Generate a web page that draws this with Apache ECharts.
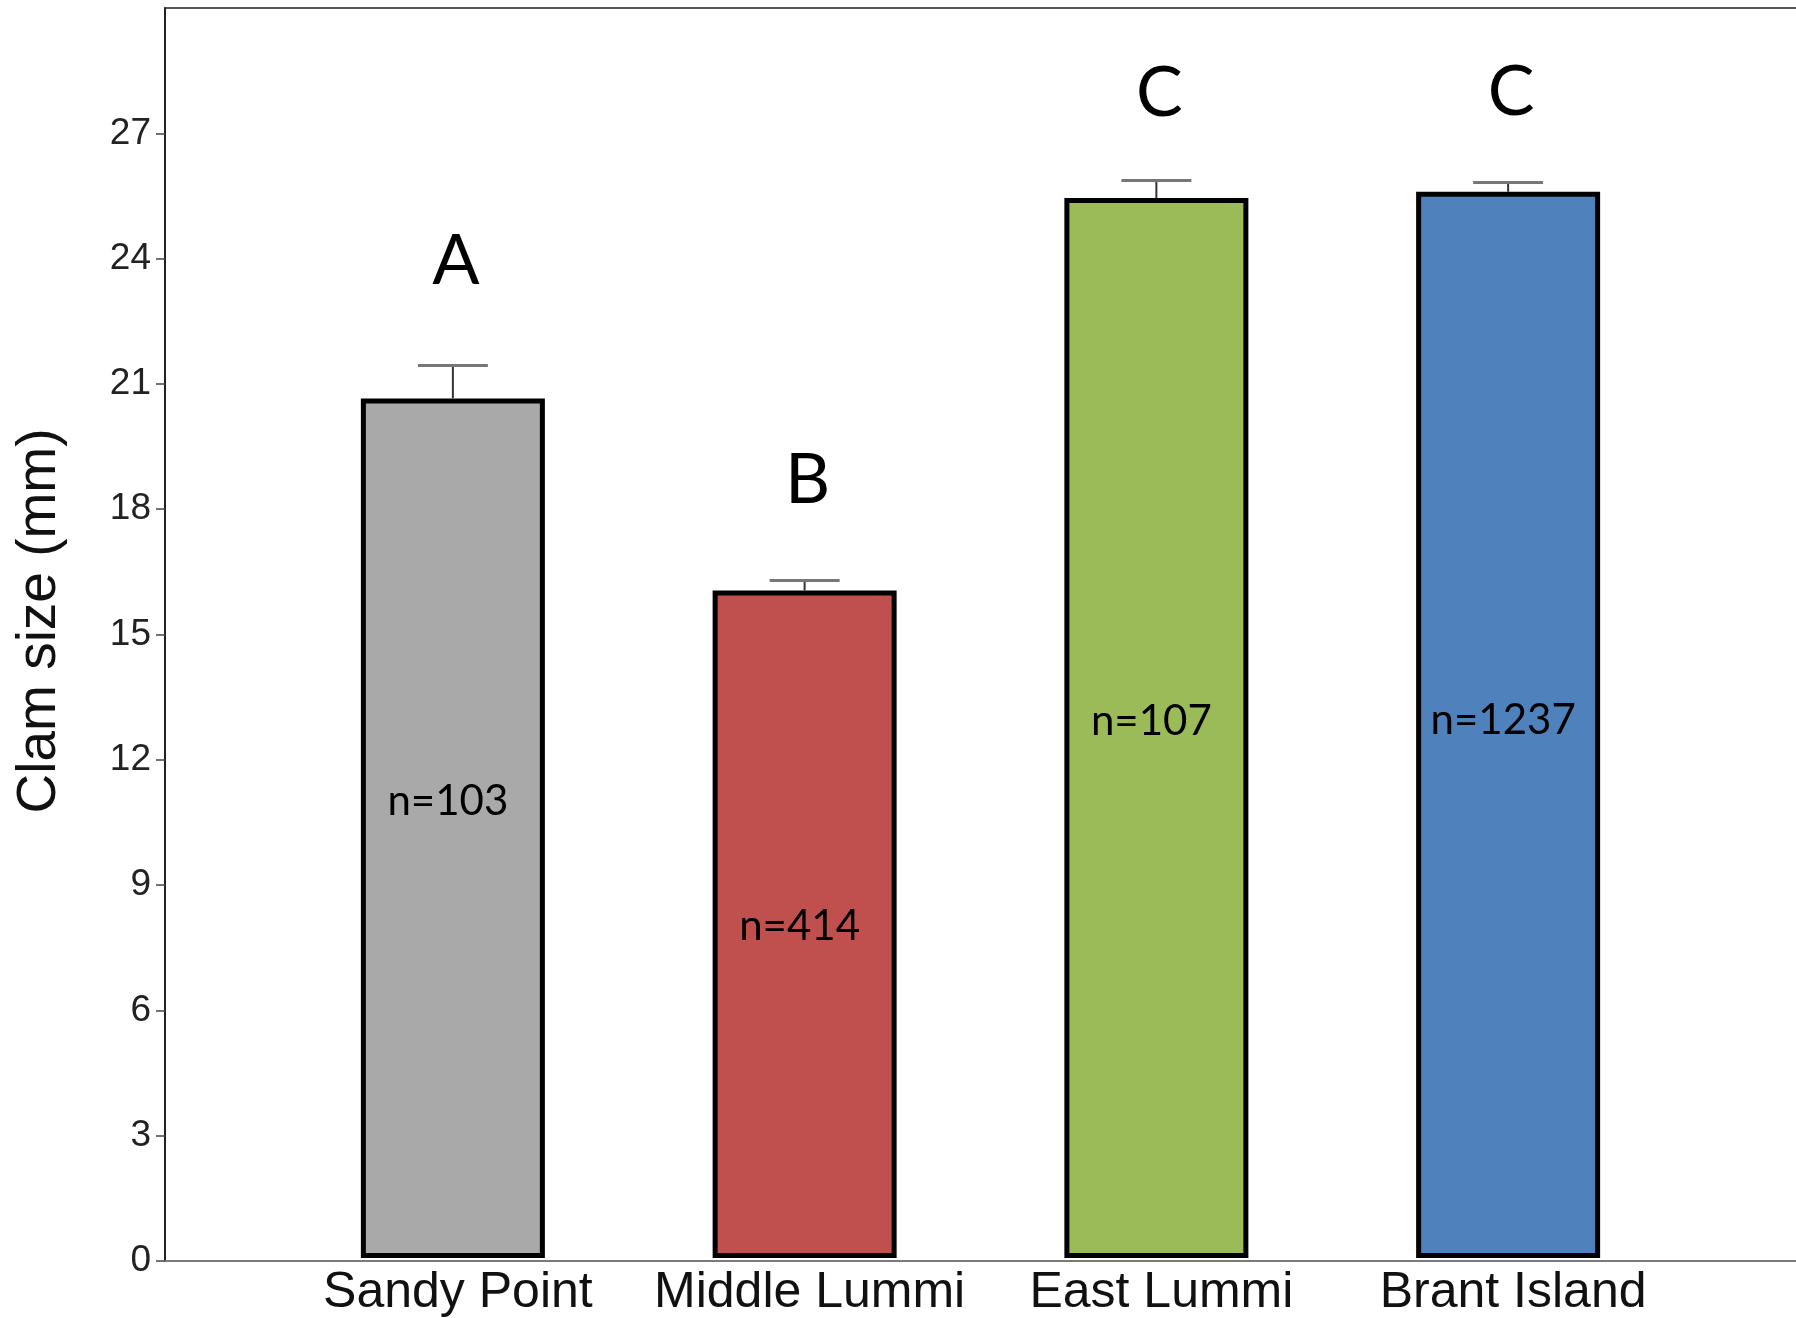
<!DOCTYPE html>
<html>
<head>
<meta charset="utf-8">
<script src="https://cdn.jsdelivr.net/npm/echarts@6/dist/echarts.min.js"></script>
<style>
html,body{margin:0;padding:0;background:#fff;}
#chart{width:1796px;height:1318px;}
</style>
</head>
<body>
<div id="chart"></div>
<script>
// ---- data ----
const categories = ['Sandy Point', 'Middle Lummi', 'East Lummi', 'Brant Island'];
const meanSize = [20.63, 16.02, 25.44, 25.59];
const errorTop = [21.42, 16.26, 25.86, 25.81];
const sampleLabels = ['n=103', 'n=414', 'n=107', 'n=1237'];
const groupLetters = ['A', 'B', 'C', 'C'];
const yTicks = [0, 3, 6, 9, 12, 15, 18, 21, 24, 27];
const yTitle = 'Clam size (mm)';

// ---- styles ----
const barColors = ['#A9A9A9', '#C0504D', '#9BBB59', '#4F81BD'];
const letterGap = [104, 100, 87, 90];
const nLabelShift = [-27, 2, -7, -4];

const chart = echarts.init(document.getElementById('chart'), null, {renderer: 'canvas'});

const option = {
  backgroundColor: '#ffffff',
  animation: false,
  grid: [
    {left: 165, right: 0, top: 8, bottom: 57},
    {left: 277, right: 112, top: 8, bottom: 57}
  ],
  graphic: [
    {
      type: 'text',
      x: 40, y: 621,
      rotation: Math.PI / 2,
      style: {
        text: yTitle,
        fontFamily: 'Liberation Sans, Arial, sans-serif', fontSize: 55,
        fill: '#111', align: 'center', verticalAlign: 'middle'
      }
    }
  ],
  xAxis: [
    {
      gridIndex: 0, type: 'value', min: 0, max: 1, position: 'bottom',
      axisLine: {show: true, lineStyle: {color: '#7a7a7a', width: 2}},
      axisTick: {show: false}, axisLabel: {show: false}, splitLine: {show: false}
    },
    {
      gridIndex: 0, type: 'value', min: 0, max: 1, position: 'top',
      axisLine: {show: true, lineStyle: {color: '#222', width: 1.5}},
      axisTick: {show: false}, axisLabel: {show: false}, splitLine: {show: false}
    },
    {
      gridIndex: 1, type: 'category', data: categories, position: 'bottom',
      axisLine: {show: false}, axisTick: {show: false},
      axisLabel: {
        show: true, interval: 0, margin: 10, padding: [0, 0, 0, 10],
        fontFamily: 'Liberation Sans, Arial, sans-serif',
        fontSize: 50, color: '#111'
      }
    }
  ],
  yAxis: [
    {
      gridIndex: 0, type: 'value', min: 0, max: 30, interval: 3,
      axisLine: {show: true, lineStyle: {color: '#222', width: 2}},
      axisTick: {show: true, inside: false, length: 9, customValues: yTicks, lineStyle: {color: '#444', width: 1.5}},
      axisLabel: {
        show: true, margin: 14, customValues: yTicks,
        fontFamily: 'Liberation Sans, Arial, sans-serif', fontSize: 37, color: '#222'
      },
      splitLine: {show: false}
    },
    {
      gridIndex: 1, type: 'value', min: 0, max: 30, show: false
    }
  ],
  series: [
    {
      type: 'bar',
      xAxisIndex: 2, yAxisIndex: 1,
      barWidth: 184,
      data: meanSize.map((v, i) => ({
        value: v,
        itemStyle: {color: barColors[i], borderColor: '#000', borderWidth: 5},
        label: {formatter: sampleLabels[i], offset: [-5, nLabelShift[i]]}
      })),
      label: {
        show: true, position: 'inside',
        fontFamily: 'Lato, Noto Sans, sans-serif', fontSize: 42, color: '#000'
      },
      z: 3
    },
    {
      type: 'custom',
      xAxisIndex: 2, yAxisIndex: 1,
      data: meanSize.map((v, i) => [i, v, errorTop[i]]),
      renderItem: function (params, api) {
        const i = api.value(0);
        const base = api.coord([i, api.value(1)]);
        const top = api.coord([i, api.value(2)]);
        const half = 35;
        return {
          type: 'group',
          children: [
            {
              type: 'line',
              shape: {x1: top[0], y1: base[1], x2: top[0], y2: top[1]},
              style: {stroke: '#333', lineWidth: 2}
            },
            {
              type: 'line',
              shape: {x1: top[0] - half, y1: top[1], x2: top[0] + half, y2: top[1]},
              style: {stroke: '#777', lineWidth: 3}
            },
            {
              type: 'text',
              x: top[0] + 3, y: top[1] - letterGap[params.dataIndex],
              style: {
                text: groupLetters[params.dataIndex],
                fontFamily: 'Lato, Noto Sans, sans-serif', fontSize: 70,
                fill: '#000', align: 'center', verticalAlign: 'middle'
              }
            }
          ]
        };
      },
      z: 4
    }
  ]
};

chart.setOption(option);
</script>
</body>
</html>
